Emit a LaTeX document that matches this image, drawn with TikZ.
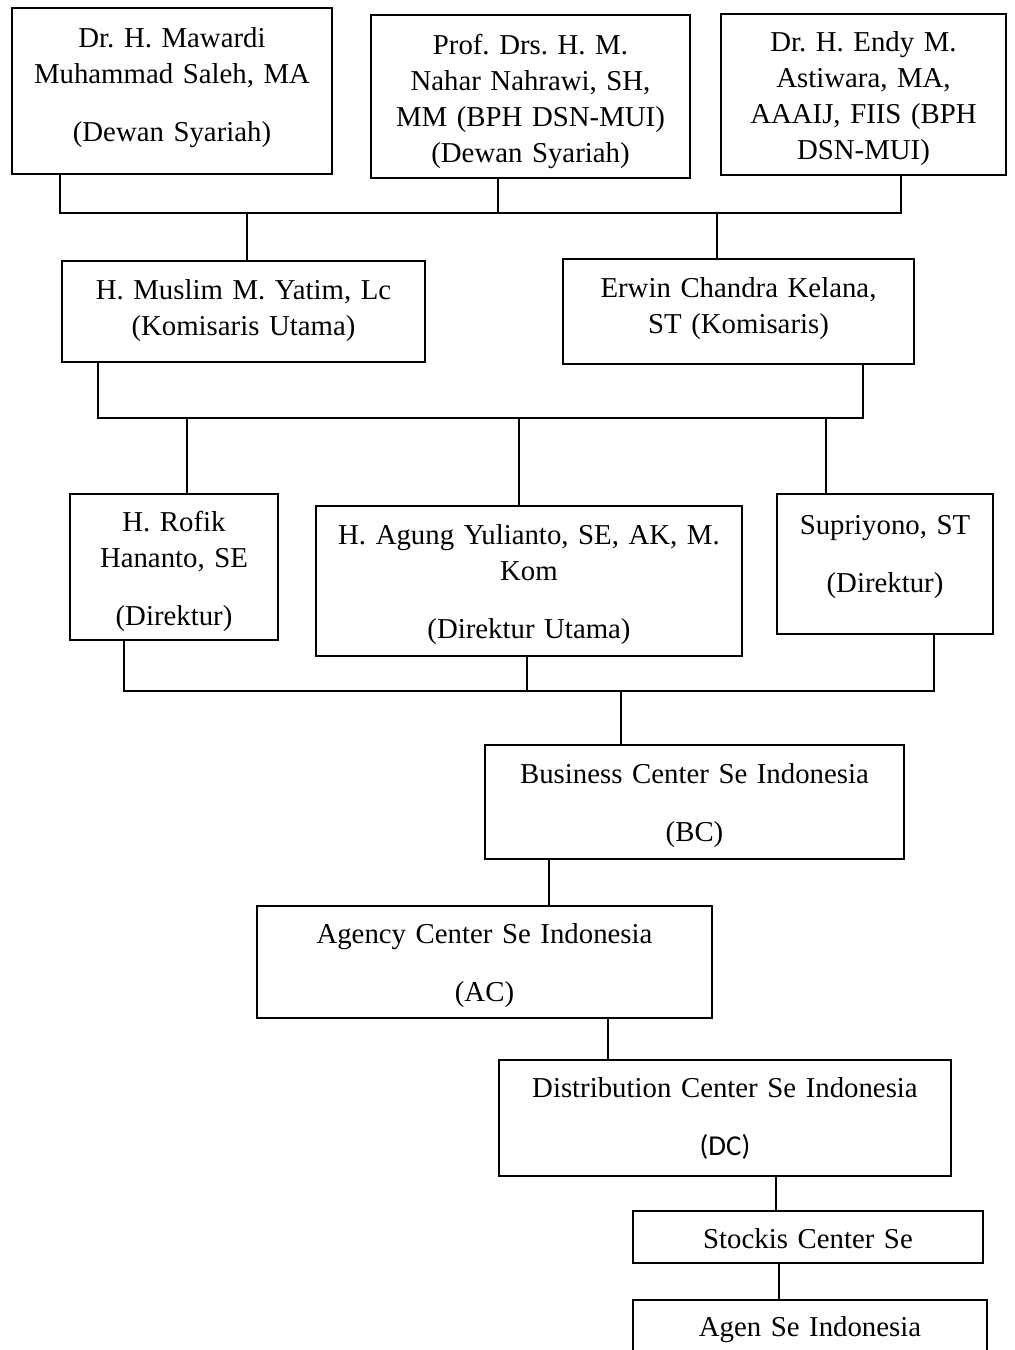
\documentclass[tikz,border=0pt]{standalone}
\usepackage{fontspec}
\setmainfont{Liberation Serif}
\newfontfamily\dcfont{Carlito}
\usepackage{tikz}
\newcommand{\gapline}{11pt}
\newcommand{\boxfont}{\fontsize{14.4pt}{18pt}\selectfont\frenchspacing}
\tikzset{
    orgbox/.style={draw, anchor=north west, align=center, inner sep=0pt, font=\boxfont},
    boxdim/.style n args={3}{text width=#1, text height=#2, text depth=#3}
}

\begin{document}
\begin{tikzpicture}[x=0.5pt, y=-0.5pt, line width=1pt]
    \useasboundingbox (0,0) rectangle (1014,1350);

    % dewan syariah
    \node[orgbox, boxdim={160pt}{19.5pt}{63.5pt}] (dewanA) at (11,7)
        {Dr. H. Mawardi\\Muhammad Saleh, MA\\[\gapline](Dewan Syariah)};
    \node[orgbox, boxdim={159.5pt}{19.5pt}{62pt}] (dewanB) at (370,14)
        {Prof. Drs. H. M.\\Nahar Nahrawi, SH,\\MM (BPH DSN-MUI)\\(Dewan Syariah)};
    \node[orgbox, boxdim={142.5pt}{18.5pt}{62pt}] (dewanC) at (720,13)
        {Dr. H. Endy M.\\Astiwara, MA,\\AAAIJ, FIIS (BPH\\DSN-MUI)};

    % komisaris
    \node[orgbox, boxdim={181.5pt}{19pt}{31.5pt}] (komut) at (61,260)
        {H. Muslim M. Yatim, Lc\\(Komisaris Utama)};
    \node[orgbox, boxdim={175.5pt}{19pt}{33.5pt}] (komis) at (562,258)
        {Erwin Chandra Kelana,\\ST (Komisaris)};

    % direksi
    \node[orgbox, boxdim={104pt}{18.5pt}{54.5pt}] (dirA) at (69,493)
        {H. Rofik\\Hananto, SE\\[\gapline](Direktur)};
    \node[orgbox, boxdim={213pt}{19pt}{56pt}] (dirut) at (315,505)
        {H. Agung Yulianto, SE, AK, M.\\Kom\\[\gapline](Direktur Utama)};
    \node[orgbox, boxdim={108pt}{20pt}{50pt}] (dirB) at (776,493)
        {Supriyono, ST\\[\gapline](Direktur)};

    % jaringan
    \node[orgbox, boxdim={209.5pt}{19pt}{38pt}] (bc) at (484,744)
        {Business Center Se Indonesia\\[\gapline](BC)};
    \node[orgbox, boxdim={227.5pt}{18.5pt}{37.5pt}] (ac) at (256,905)
        {Agency Center Se Indonesia\\[\gapline](AC)};
    \node[orgbox, boxdim={226pt}{18.5pt}{39.5pt}] (dc) at (498,1059)
        {Distribution Center Se Indonesia\\[\gapline]{\dcfont (DC)}};
    \node[orgbox, boxdim={175pt}{18.5pt}{7.5pt}] (stockis) at (632,1210)
        {Stockis Center Se};
    \node[orgbox, boxdim={177pt}{18pt}{9pt}] (agen) at (632,1299)
        {Agen Se Indonesia};

    % garis dewan -> komisaris
    \coordinate (jA1) at (60,213);
    \coordinate (jA2) at (498,213);
    \coordinate (jA3) at (901,213);
    \coordinate (jA4) at (247,213);
    \coordinate (jA5) at (717,213);
    \draw (jA1 |- dewanA.south) -- (jA1) -- (jA3) -- (jA3 |- dewanC.south);
    \draw (jA2 |- dewanB.south) -- (jA2);
    \draw (jA4) -- (jA4 |- komut.north);
    \draw (jA5) -- (jA5 |- komis.north);

    % garis komisaris -> direksi
    \coordinate (jB1) at (98,418);
    \coordinate (jB2) at (863,418);
    \coordinate (jB3) at (187,418);
    \coordinate (jB4) at (519,418);
    \coordinate (jB5) at (826,418);
    \draw (jB1 |- komut.south) -- (jB1) -- (jB2) -- (jB2 |- komis.south);
    \draw (jB3) -- (jB3 |- dirA.north);
    \draw (jB4) -- (jB4 |- dirut.north);
    \draw (jB5) -- (jB5 |- dirB.north);

    % garis direksi -> BC
    \coordinate (jC1) at (124,691);
    \coordinate (jC2) at (527,691);
    \coordinate (jC3) at (934,691);
    \coordinate (jC4) at (621,691);
    \draw (jC1 |- dirA.south) -- (jC1) -- (jC3) -- (jC3 |- dirB.south);
    \draw (jC2 |- dirut.south) -- (jC2);
    \draw (jC4) -- (jC4 |- bc.north);

    % rantai ke bawah
    \coordinate (lBC) at (549,0);
    \coordinate (lAC) at (608,0);
    \coordinate (lDC) at (776,0);
    \coordinate (lSC) at (779,0);
    \draw (lBC |- bc.south) -- (lBC |- ac.north);
    \draw (lAC |- ac.south) -- (lAC |- dc.north);
    \draw (lDC |- dc.south) -- (lDC |- stockis.north);
    \draw (lSC |- stockis.south) -- (lSC |- agen.north);
\end{tikzpicture}
\end{document}
